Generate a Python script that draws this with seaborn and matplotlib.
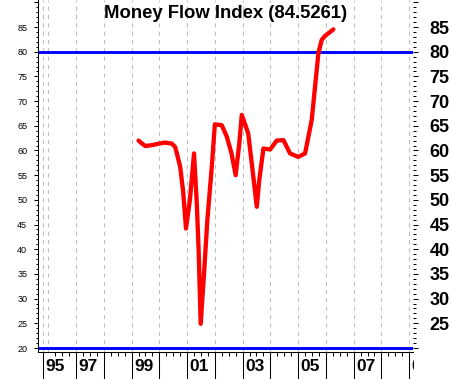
import matplotlib
matplotlib.use("Agg")
import matplotlib.pyplot as plt
import matplotlib.transforms as mtransforms
from matplotlib.ticker import FixedLocator, MultipleLocator
import pandas as pd
import seaborn as sns

# Money Flow Index readings (fractional year, value)
years = [1999.25, 1999.4, 1999.5, 1999.75, 2000.0, 2000.2, 2000.45, 2000.57,
         2000.65, 2000.75, 2000.86, 2000.96, 2001.1, 2001.25, 2001.35, 2001.42,
         2001.49, 2001.61, 2001.73, 2001.89, 2002.0, 2002.25, 2002.43, 2002.6,
         2002.75, 2002.88, 2002.97, 2003.2, 2003.33, 2003.51, 2003.6, 2003.75,
         2003.99, 2004.23, 2004.47, 2004.71, 2005.0, 2005.25, 2005.49, 2005.73,
         2005.85, 2005.97, 2006.15, 2006.27]
mfi = [62.0, 61.3, 60.9, 61.1, 61.4, 61.6, 61.4, 60.7,
       59.0, 56.7, 51.6, 44.2, 49.9, 59.4, 49.3, 39.1,
       24.9, 35.1, 45.9, 56.7, 65.3, 65.1, 62.8, 59.4,
       55.0, 61.4, 67.2, 63.5, 57.4, 48.6, 54.0, 60.4,
       60.2, 62.0, 62.1, 59.4, 58.7, 59.4, 66.2, 79.7,
       82.4, 83.2, 84.0, 84.5261]

ref_levels = [80, 20]
grid_years = [1995.8] + list(range(1996, 2010))
sep_years = [1995.8] + list(range(1997, 2010))
year_labels = ["95", "97", "99", "01", "03", "05", "07", "09"]
label_years = [1995.8, 1997, 1999, 2001, 2003, 2005, 2007, 2009]

df = pd.DataFrame({"year": years, "mfi": mfi})

sns.set_style("white")
plt.rcParams["font.family"] = ["Liberation Sans", "DejaVu Sans"]
for key in ["text.color", "xtick.color", "ytick.color", "axes.labelcolor"]:
    plt.rcParams[key] = "black"

W, H = 451, 379
fig = plt.figure(figsize=(W / 100, H / 100), dpi=100)
x0, x1, yb = 38.3, 412.5, 352.3
ax = fig.add_axes([x0 / W, (H - yb) / H, (x1 - x0) / W, yb / H])

for g in grid_years:
    ax.axvline(g, color="#bdbdbd", lw=0.75, ls=(0, (4, 4)), zorder=0)
for lvl in ref_levels:
    ax.axhline(lvl, color="#0000ff", lw=2.1, zorder=2)

sns.lineplot(data=df, x="year", y="mfi", ax=ax, color="#ff0000", lw=3.1,
             solid_joinstyle="round", solid_capstyle="round", zorder=3)

ax.set_xlim(1995.64, 2009.12)
ax.set_ylim(19.13, 90.47)
ax.set_xlabel("")
ax.set_ylabel("")
for s in ["top", "right"]:
    ax.spines[s].set_visible(False)
for s in ["left", "bottom"]:
    ax.spines[s].set_color("black")
    ax.spines[s].set_linewidth(0.75)

# left axis: small labels
yt = list(range(20, 91, 5))
ax.set_yticks(yt)
ax.set_yticklabels([str(v) if v < 90 else "" for v in yt])
ax.yaxis.set_minor_locator(MultipleLocator(1))
ax.tick_params(axis="y", which="both", left=True)
ax.tick_params(axis="y", which="major", direction="out", length=3, width=0.75,
               pad=5, labelsize=6.5, color="black")
ax.tick_params(axis="y", which="minor", direction="out", length=1.6, width=0.75,
               color="black")

# bottom axis: long separators + quarter ticks
ax.xaxis.set_major_locator(FixedLocator(sep_years))
quarters = [1996 + q * 0.25 for q in range(0, 53) if (q % 4) != 0]
ax.xaxis.set_minor_locator(FixedLocator(quarters))
ax.set_xticklabels([])
ax.tick_params(axis="x", which="both", bottom=True)
ax.tick_params(axis="x", which="major", direction="out", length=22, width=0.75,
               color="black")
ax.tick_params(axis="x", which="minor", direction="out", length=3, width=0.75,
               color="black")

clip = mtransforms.TransformedBbox(
    mtransforms.Bbox.from_extents(0, 0, (x1 + 1.5) / W, 1), fig.transFigure)
base = mtransforms.blended_transform_factory(ax.transData, ax.transAxes)
for yr, lab in zip(label_years, year_labels):
    tr = base + mtransforms.ScaledTranslation(2.5 / 100, -7 / 100, fig.dpi_scale_trans)
    t = ax.text(yr, 0, lab, transform=tr, ha="left", va="top", fontsize=12.5,
                fontweight="bold", clip_on=True)
    t.set_clip_path(None)
    t.set_clip_box(clip)

# right axis: big bold labels
ax2 = ax.twinx()
ax2.set_ylim(ax.get_ylim())
ax2.set_yticks(yt)
ax2.set_yticklabels([str(v) if 20 < v < 90 else "" for v in yt])
ax2.yaxis.set_minor_locator(MultipleLocator(1))
ax2.tick_params(axis="y", which="both", right=True)
ax2.tick_params(axis="y", which="major", direction="out", length=3.8, width=0.75,
                pad=8.5, labelsize=13, color="black")
ax2.tick_params(axis="y", which="minor", direction="out", length=2.2, width=0.75,
                color="black")
for lbl in ax2.get_yticklabels():
    lbl.set_fontweight("bold")
for s in ax2.spines.values():
    s.set_visible(False)

ax.text(0.5, 1 - 14 / yb, "Money Flow Index (84.5261)", transform=ax.transAxes,
        ha="center", va="center", fontsize=13.3, fontweight="bold")

fig.savefig("out.png", dpi=100)
